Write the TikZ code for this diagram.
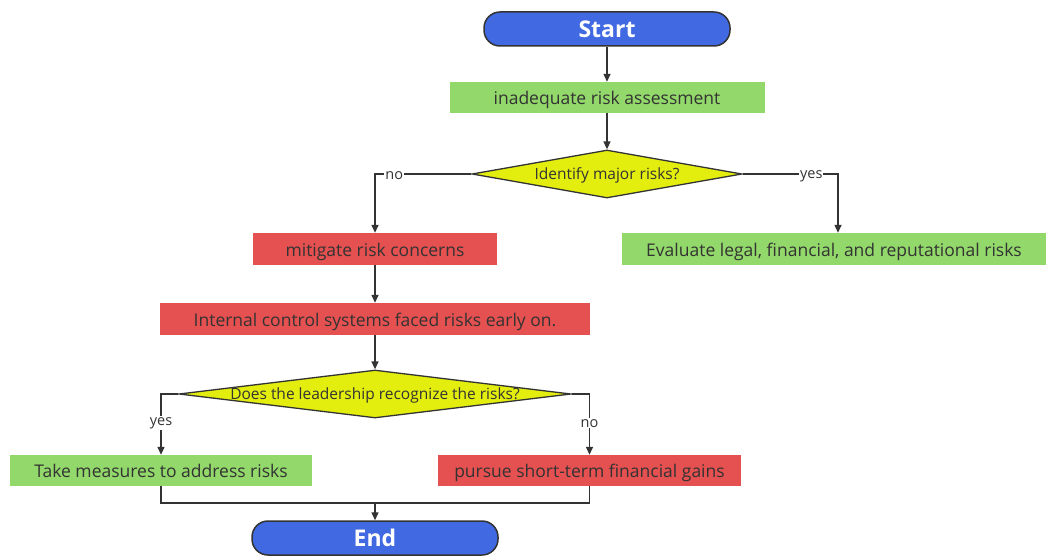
\documentclass[tikz,border=0pt]{standalone}
\usepackage{fontspec}
\setmainfont{Open Sans}
\usetikzlibrary{arrows.meta,shapes.geometric}
\definecolor{termblue}{HTML}{4169E1}
\definecolor{okgreen}{HTML}{92D86A}
\definecolor{badred}{HTML}{E55050}
\definecolor{decyellow}{HTML}{E4EE0E}
\definecolor{edge}{HTML}{333333}
\definecolor{txt}{HTML}{333333}
\begin{document}
\begin{tikzpicture}[x=1pt,y=-1pt,
  every node/.style={font=\fontsize{17.5}{20}\selectfont, text=txt},
  terminal/.style={rounded corners=16pt, fill=termblue, draw=edge, line width=1.5pt,
    minimum width=246pt, minimum height=34pt, text=white,
    font=\fontsize{23}{26}\selectfont\bfseries},
  box/.style={minimum height=31pt, inner sep=0pt, text height=15.5pt, text depth=1.5pt},
  okbox/.style={box, fill=okgreen},
  badbox/.style={box, fill=badred},
  decision/.style={diamond, fill=decyellow, draw=edge, line width=1.3pt, inner sep=0pt},
  question/.style={font=\fontsize{15.5}{18}\selectfont, yshift=-1pt},
  flow/.style={draw=edge, line width=1.4pt, -{Triangle[length=8pt,width=7pt]}},
  link/.style={draw=edge, line width=1.4pt},
  tag/.style={fill=white, inner sep=1pt, font=\fontsize{14.5}{16}\selectfont}]
\useasboundingbox (0,0) rectangle (1046,556);

% nodes
\node[terminal] (start) at (607,29) {Start};
\node[okbox, minimum width=315pt] (assess) at (607,97.5) {inadequate risk assessment};
\node[decision, minimum width=270pt, minimum height=48pt] (d1) at (607,174) {};
\node[question] (d1text) at (d1) {Identify major risks?};
\node[badbox, minimum width=244pt, minimum height=32pt] (mitigate) at (375,249) {mitigate risk concerns};
\node[okbox, minimum width=424pt, minimum height=32pt] (evaluate) at (834,249) {Evaluate legal, financial, and reputational risks};
\node[badbox, minimum width=430pt, minimum height=32pt] (internal) at (375,319) {Internal control systems faced risks early on.};
\node[decision, minimum width=392pt, minimum height=48pt] (d2) at (375,394) {};
\node[question] (d2text) at (d2) {Does the leadership recognize the risks?};
\node[okbox, minimum width=302pt] (measures) at (161,470.5) {Take measures to address risks};
\node[badbox, minimum width=303pt] (gains) at (589.5,470.5) {pursue short-term financial gains};
\node[terminal] (end) at (375,538) {End};
\coordinate (join) at (375,503);

% connectors
\draw[flow] (start) -- (assess);
\draw[flow] (assess) -- (d1);
\draw[flow] (d1.west) -| (mitigate.north) node[tag, pos=0.4, yshift=-2pt] {no};
\draw[flow] (d1.east) -| ([xshift=4pt]evaluate.north) node[tag, pos=0.36, yshift=-2pt] {yes};
\draw[flow] (mitigate) -- (internal);
\draw[flow] (internal) -- (d2);
\draw[flow] (d2.west) -| (measures.north) node[tag, pos=0.74] {yes};
\draw[flow] (d2.east) -| (gains.north) node[tag, pos=0.74] {no};
\draw[link] (measures.south) |- (join) -| (gains.south);
\draw[flow] (join) -- (end);
\end{tikzpicture}
\end{document}
